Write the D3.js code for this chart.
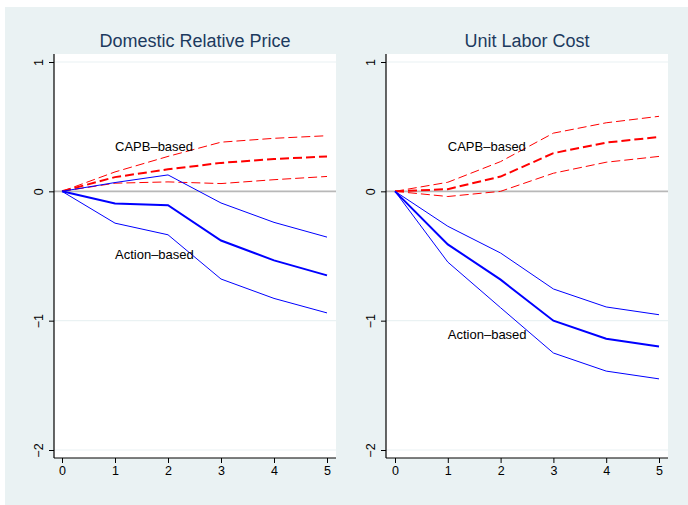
<!DOCTYPE html>
<html>
<head>
<meta charset="utf-8">
<script src="https://cdn.jsdelivr.net/npm/d3@7"></script>
<style>
  html, body { margin: 0; padding: 0; background: #ffffff; }
  svg { display: block; font-family: "Liberation Sans", Arial, sans-serif; }
</style>
</head>
<body>
<svg id="chart" width="688" height="505"></svg>
<script>
// Horizons (years after the shock)
const horizons = [0, 1, 2, 3, 4, 5];
const yTicks = [-2, -1, 0, 1];

// Domestic Relative Price
const priceCapbUpper = [0, 0.15, 0.27, 0.38, 0.41, 0.43];
const priceCapb      = [0, 0.11, 0.17, 0.22, 0.25, 0.27];
const priceCapbLower = [0, 0.063, 0.073, 0.06, 0.09, 0.115];
const priceActUpper  = [0, 0.068, 0.127, -0.09, -0.24, -0.354];
const priceAct       = [0, -0.094, -0.107, -0.38, -0.534, -0.65];
const priceActLower  = [0, -0.246, -0.336, -0.678, -0.828, -0.94];

// Unit Labor Cost
const ulcCapbUpper = [0, 0.07, 0.23, 0.45, 0.53, 0.58];
const ulcCapb      = [0, 0.017, 0.114, 0.295, 0.377, 0.42];
const ulcCapbLower = [0, -0.04, 0.0, 0.14, 0.225, 0.27];
const ulcActUpper  = [0, -0.27, -0.477, -0.755, -0.894, -0.954];
const ulcAct       = [0, -0.41, -0.683, -1.0, -1.14, -1.2];
const ulcActLower  = [0, -0.547, -0.9, -1.25, -1.39, -1.45];

const panelTitles = ["Domestic Relative Price", "Unit Labor Cost"];
const labelCapb = "CAPB\u2013based";
const labelAction = "Action\u2013based";

const svg = d3.select("#chart");

// outer graph region
svg.append("rect")
  .attr("x", 5).attr("y", 7).attr("width", 683).attr("height", 498)
  .attr("fill", "#eaf2f3");

const panels = [
  {
    title: panelTitles[0], left: 54, right: 336, x0: 62, x5: 327,
    capb: [priceCapbUpper, priceCapb, priceCapbLower],
    act: [priceActUpper, priceAct, priceActLower],
    capbLabel: 0.35, actLabel: -0.49
  },
  {
    title: panelTitles[1], left: 386, right: 668, x0: 395, x5: 659,
    capb: [ulcCapbUpper, ulcCapb, ulcCapbLower],
    act: [ulcActUpper, ulcAct, ulcActLower],
    capbLabel: 0.35, actLabel: -1.11
  }
];

const plotTop = 54, plotBottom = 458;
const y = d3.scaleLinear().domain([-2, 1]).range([450, 62]);

panels.forEach(p => {
  const x = d3.scaleLinear().domain([0, 5]).range([p.x0, p.x5]);
  const g = svg.append("g");

  // plot region
  g.append("rect")
    .attr("x", p.left).attr("y", plotTop)
    .attr("width", p.right - p.left).attr("height", plotBottom - plotTop)
    .attr("fill", "#ffffff");

  // grid lines
  g.selectAll("line.grid")
    .data(yTicks.filter(t => t !== 0))
    .join("line")
    .attr("class", "grid")
    .attr("x1", p.left).attr("x2", p.right)
    .attr("y1", d => y(d)).attr("y2", d => y(d))
    .attr("stroke", "#eaf2f3").attr("stroke-width", 1.2);

  // zero reference line
  g.append("line")
    .attr("x1", p.left).attr("x2", p.right)
    .attr("y1", y(0)).attr("y2", y(0))
    .attr("stroke", "#b8b8b8").attr("stroke-width", 1.6);

  const line = d3.line()
    .x((d, i) => x(horizons[i]))
    .y(d => y(d));

  // CAPB-based responses (dashed red)
  p.capb.forEach((series, i) => {
    g.append("path")
      .attr("d", line(series))
      .attr("fill", "none")
      .attr("stroke", "#ff0000")
      .attr("stroke-width", i === 1 ? 2 : 1)
      .attr("stroke-dasharray", "9,4");
  });

  // Action-based responses (solid blue)
  p.act.forEach((series, i) => {
    g.append("path")
      .attr("d", line(series))
      .attr("fill", "none")
      .attr("stroke", "#0000ff")
      .attr("stroke-width", i === 1 ? 2 : 1);
  });

  // series labels
  g.append("text")
    .attr("x", x(1)).attr("y", y(p.capbLabel))
    .attr("dy", "0.35em")
    .attr("font-size", 13).attr("fill", "#000")
    .text(labelCapb);
  g.append("text")
    .attr("x", x(1)).attr("y", y(p.actLabel))
    .attr("dy", "0.35em")
    .attr("font-size", 13).attr("fill", "#000")
    .text(labelAction);

  // y axis
  const yAxis = d3.axisLeft(y).tickValues(yTicks).tickSize(5)
    .tickFormat(d => d < 0 ? "\u2212" + Math.abs(d) : String(d));
  const ya = g.append("g").attr("transform", `translate(${p.left},0)`).call(yAxis);
  ya.select(".domain").remove();
  ya.selectAll(".tick line").attr("stroke", "#000");
  ya.selectAll(".tick text")
    .attr("font-size", 12.5).attr("fill", "#000")
    .attr("font-family", "Liberation Sans, Arial, sans-serif")
    .attr("x", 0).attr("y", 0).attr("dy", "0.35em")
    .attr("text-anchor", "middle")
    .attr("transform", "translate(-15,0) rotate(-90)");
  g.append("line")
    .attr("x1", p.left).attr("x2", p.left)
    .attr("y1", plotTop).attr("y2", plotBottom)
    .attr("stroke", "#000").attr("stroke-width", 1.2);

  // x axis
  const xAxis = d3.axisBottom(x).tickValues(horizons).tickSize(5).tickPadding(3)
    .tickFormat(d3.format("d"));
  const xa = g.append("g").attr("transform", `translate(0,${plotBottom})`).call(xAxis);
  xa.select(".domain").remove();
  xa.selectAll(".tick line").attr("stroke", "#000");
  xa.selectAll(".tick text")
    .attr("font-size", 12.5).attr("fill", "#000")
    .attr("font-family", "Liberation Sans, Arial, sans-serif");
  g.append("line")
    .attr("x1", p.left).attr("x2", p.right)
    .attr("y1", plotBottom).attr("y2", plotBottom)
    .attr("stroke", "#000").attr("stroke-width", 1.2);

  // panel title
  g.append("text")
    .attr("x", (p.left + p.right) / 2).attr("y", 47)
    .attr("text-anchor", "middle")
    .attr("font-size", 18).attr("fill", "#1c3a5e")
    .text(p.title);
});
</script>
</body>
</html>
